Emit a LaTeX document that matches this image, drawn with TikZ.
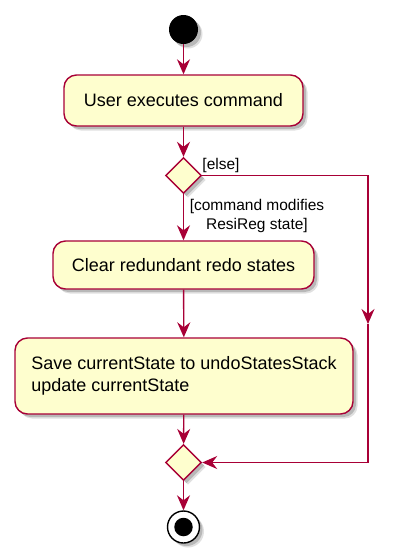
\documentclass[tikz,border=0pt]{standalone}
\usepackage{fontspec}
\setmainfont{Liberation Sans}
\usetikzlibrary{shapes.geometric,shadows,arrows.meta}
\definecolor{actfill}{HTML}{FEFECE}
\definecolor{actline}{HTML}{A80036}
\tikzset{
  shad/.style={drop shadow={shadow xshift=4.5pt,shadow yshift=-4.5pt,opacity=0.12,fill=black},
               drop shadow={shadow xshift=3pt,shadow yshift=-3pt,opacity=0.18,fill=black}},
  actbox/.style={draw=actline,fill=actfill,line width=1.4pt,rounded corners=12.5pt,
     inner sep=0pt,shad,font=\fontsize{18}{22}\selectfont},
  choice/.style={diamond,draw=actline,fill=actfill,line width=1.4pt,minimum width=36pt,
     minimum height=36pt,inner sep=0pt,shad},
  flow/.style={draw=actline,line width=1.4pt,-{Stealth[length=15pt,width=13pt,inset=5pt]}},
  guard/.style={font=\fontsize{15.5}{19}\selectfont,inner sep=0pt,align=center}
}
\begin{document}
\begin{tikzpicture}[x=1pt,y=-1pt]
\useasboundingbox (0,0) rectangle (405,558);
\node[circle,fill=black,minimum size=29pt,inner sep=0pt,shad] (start) at (183.5,29.5) {};
\node[actbox,minimum width=239pt,minimum height=51pt] (b1) at (183.5,100.5) {User executes command};
\node[choice] (d1) at (183.5,175.5) {};
\node[actbox,minimum width=261pt,minimum height=48pt] (b2) at (183.5,265) {Clear redundant redo states};
\node[actbox,minimum width=338pt,minimum height=76pt,align=left] (b3) at (184,376) {Save currentState to undoStatesStack\\update currentState};
\node[choice] (d2) at (183.5,462.5) {};
\node[circle,draw=black,fill=white,line width=1.4pt,minimum size=32pt,inner sep=0pt,shad] (end) at (183.5,527) {};
\node[circle,fill=black,minimum size=18.5pt,inner sep=0pt] (endin) at (end.center) {};
\coordinate (rmid) at (368,324);
\node[guard] (lelse) at (221,165) {[else]};
\node[guard] (lcmd) at (257,216) {[command modifies\\ResiReg state]};
\draw[flow] (start) -- (b1);
\draw[flow] (b1) -- (d1);
\draw[flow] (d1) -- (b2);
\draw[flow] (b2) -- (b3);
\draw[flow] (b3) -- (d2);
\draw[flow] (d2) -- (end);
\draw[flow] (d1.east) -| (rmid);
\draw[flow] (rmid) |- (d2.east);
\end{tikzpicture}
\end{document}
